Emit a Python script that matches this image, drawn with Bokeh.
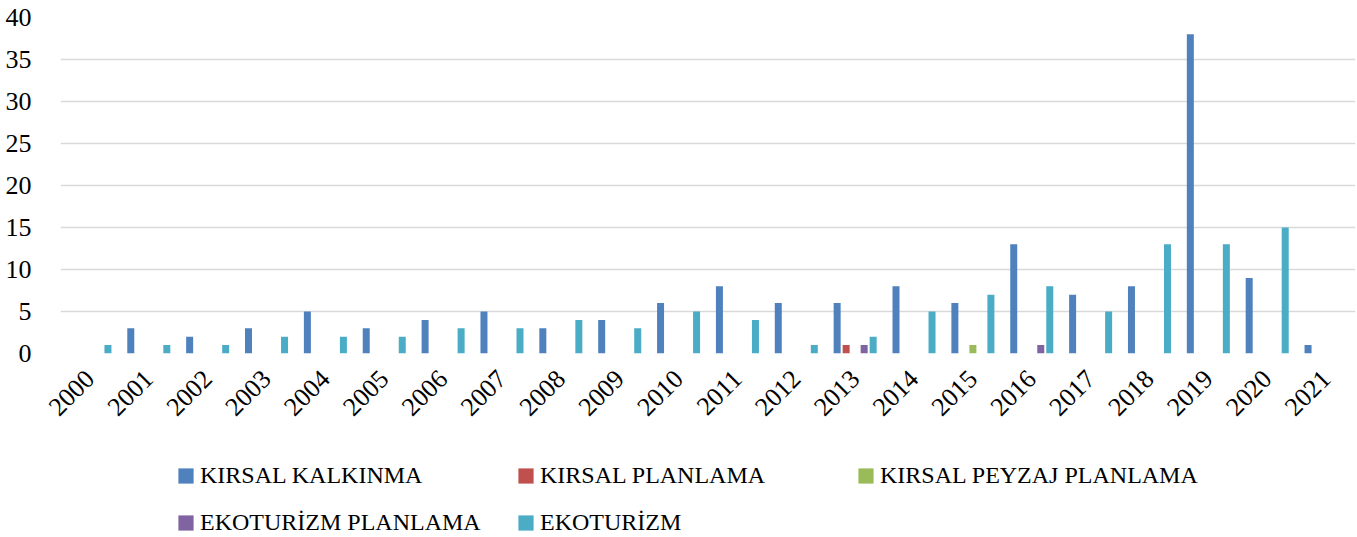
import math
from bokeh.plotting import figure
from bokeh.layouts import column
from bokeh.models import ColumnDataSource, FactorRange, Legend, LegendItem, SingleIntervalTicker, Range1d
from bokeh.transform import dodge
from bokeh.embed import file_html
from bokeh.resources import INLINE

years = [str(y) for y in range(2000, 2022)]
series_names = ["KIRSAL KALKINMA", "KIRSAL PLANLAMA", "KIRSAL PEYZAJ PLANLAMA",
                "EKOTURİZM PLANLAMA", "EKOTURİZM"]
kirsal_kalkinma = [0, 3, 2, 3, 5, 3, 4, 5, 3, 4, 6, 8, 6, 6, 8, 6, 13, 7, 8, 38, 9, 1]
kirsal_planlama = [0, 0, 0, 0, 0, 0, 0, 0, 0, 0, 0, 0, 0, 1, 0, 0, 0, 0, 0, 0, 0, 0]
kirsal_peyzaj_planlama = [0, 0, 0, 0, 0, 0, 0, 0, 0, 0, 0, 0, 0, 0, 0, 1, 0, 0, 0, 0, 0, 0]
ekoturizm_planlama = [0, 0, 0, 0, 0, 0, 0, 0, 0, 0, 0, 0, 0, 1, 0, 0, 1, 0, 0, 0, 0, 0]
ekoturizm = [1, 1, 1, 2, 2, 2, 3, 3, 4, 3, 5, 4, 1, 2, 5, 7, 8, 5, 13, 13, 15, 0]
colors = ["#4F81BD", "#C0504D", "#9BBB59", "#8064A2", "#4BACC6"]

keys = ["kk", "kp", "kpp", "ep", "e"]
source = ColumnDataSource(data=dict(
    years=years, kk=kirsal_kalkinma, kp=kirsal_planlama, kpp=kirsal_peyzaj_planlama,
    ep=ekoturizm_planlama, e=ekoturizm))

FONT = "Liberation Serif"
W = 1357
H_MAIN = 445
H_LEG = 92

p = figure(x_range=FactorRange(*years), y_range=(0, 40), width=W, height=H_MAIN,
           output_backend="svg", toolbar_location=None,
           min_border_left=60, min_border_right=2, min_border_top=17,
           min_border_bottom=H_MAIN - 353)
p.outline_line_color = None

step = 0.153
bw = 0.119
for i, (k, c) in enumerate(zip(keys, colors)):
    p.vbar(x=dodge("years", (i - 2) * step, range=p.x_range), top=k, width=bw,
           source=source, fill_color=c, line_color=None)

p.xgrid.grid_line_color = None
p.ygrid.grid_line_color = "#d9d9d9"
p.ygrid.grid_line_width = 1.5
p.yaxis.ticker = SingleIntervalTicker(interval=5)

for ax in (p.xaxis[0], p.yaxis[0]):
    ax.axis_line_color = None
    ax.major_tick_line_color = None
    ax.minor_tick_line_color = None
    ax.major_tick_out = 0
    ax.major_tick_in = 0
    ax.major_label_text_font = FONT
    ax.major_label_text_font_size = "26px"
    ax.major_label_text_color = "#000000"

p.yaxis.major_label_standoff = 25
p.xaxis.major_label_standoff = 21
p.xaxis.major_label_orientation = math.pi / 4

# Legend figure: same series, drawn outside its visible range, only the legend shows
lf = figure(x_range=FactorRange(*years), y_range=Range1d(1000, 1001), width=W, height=H_LEG,
            output_backend="svg", toolbar_location=None, x_axis_type=None, y_axis_type=None,
            min_border=0)
lf.outline_line_color = None
lf.xgrid.grid_line_color = None
lf.ygrid.grid_line_color = None
lrs = []
for i, (k, c) in enumerate(zip(keys, colors)):
    lrs.append(lf.vbar(x=dodge("years", (i - 2) * step, range=lf.x_range), top=k, width=bw,
                       source=source, fill_color=c, line_color=None))

# legend fills column by column: order so that rows read KK, KP, KPP / EP, E
order = [0, 3, 1, 4, 2]
items = [LegendItem(label=series_names[j], renderers=[lrs[j]]) for j in order]
legend = Legend(items=items, ncols=3, location=(116, 1),
                glyph_width=19, glyph_height=19, label_standoff=5,
                label_width=296, label_height=19, spacing=20, padding=0, margin=0,
                label_text_font=FONT, label_text_font_size="24px",
                label_text_color="#000000",
                border_line_color=None, background_fill_alpha=0)
lf.add_layout(legend)

layout = column(p, lf, spacing=0)
open("out.html", "w").write(file_html(layout, INLINE))
